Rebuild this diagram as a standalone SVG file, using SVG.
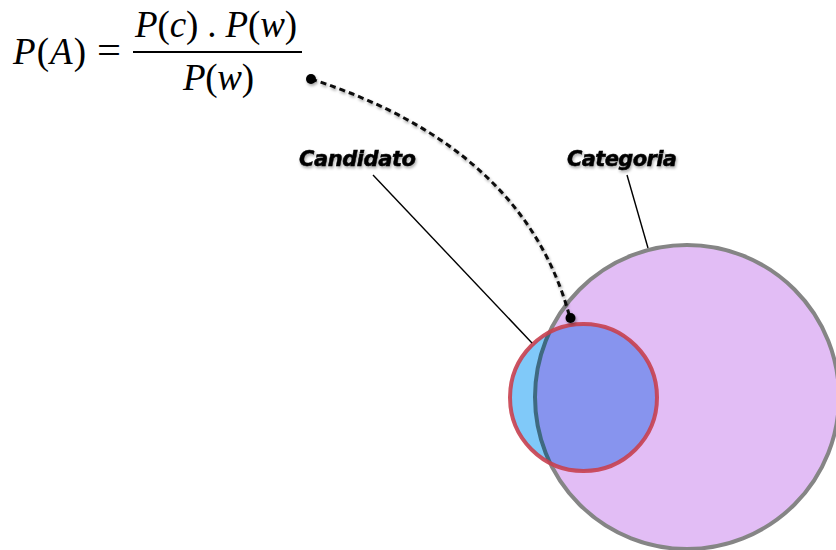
<svg xmlns="http://www.w3.org/2000/svg" width="836" height="550" viewBox="0 0 836 550">
<style>
.math{font-family:"Liberation Serif","Times New Roman",serif;font-size:37px;fill:#000}
.it{font-style:italic}
.lbl{font-family:"DejaVu Sans",Arial,sans-serif;font-weight:bold;font-style:oblique;font-size:21px;fill:#000;stroke:#000;stroke-width:0.5}
.leader{stroke:#000;stroke-width:1.4;fill:none}
.dash{stroke:#111;stroke-width:3;fill:none;stroke-dasharray:6 4}
</style>
<defs>
<filter id="sh" x="-20%" y="-20%" width="140%" height="140%">
<feGaussianBlur in="SourceAlpha" stdDeviation="1.5"/>
<feOffset dx="1" dy="1.5" result="b"/>
<feComponentTransfer><feFuncA type="linear" slope="0.35"/></feComponentTransfer>
<feMerge><feMergeNode/><feMergeNode in="SourceGraphic"/></feMerge>
</filter>
<clipPath id="bigClip"><circle cx="687" cy="397" r="152"/></clipPath>
<clipPath id="smallClip"><circle cx="583.5" cy="397.5" r="73.5"/></clipPath>
</defs>
<rect width="836" height="550" fill="#fff"/>

<g id="formula">
<text class="math" x="13" y="64" textLength="73" lengthAdjust="spacing"><tspan class="it">P</tspan>(<tspan class="it">A</tspan>)</text>
<text class="math" x="97" y="63" textLength="24" lengthAdjust="spacingAndGlyphs">=</text>
<text class="math" x="135" y="37" textLength="162" lengthAdjust="spacing"><tspan class="it">P</tspan>(<tspan class="it">c</tspan>) . <tspan class="it">P</tspan>(<tspan class="it">w</tspan>)</text>
<line x1="133" y1="52" x2="302" y2="52" stroke="#000" stroke-width="2"/>
<text class="math" x="183" y="90" textLength="71" lengthAdjust="spacing"><tspan class="it">P</tspan>(<tspan class="it">w</tspan>)</text>
</g>

<g id="categoria">
<circle cx="687" cy="397" r="152" fill="#e2bdf5" stroke="#858585" stroke-width="4"/>
<text class="lbl" x="567" y="166" textLength="110" lengthAdjust="spacing" filter="url(#sh)">Categoria</text>
</g>

<g id="candidato">
<circle cx="583.5" cy="397.5" r="73.5" fill="#80c9f9"/>
<circle cx="583.5" cy="397.5" r="73.5" fill="#8794ee" clip-path="url(#bigClip)"/>
<circle cx="687" cy="397" r="152" fill="none" stroke="#3f6a80" stroke-width="4" clip-path="url(#smallClip)"/>
<circle cx="583.5" cy="397.5" r="73.5" fill="none" stroke="#c8404f" stroke-width="4" stroke-opacity="0.9"/>
<text class="lbl" x="299" y="166" textLength="117" lengthAdjust="spacing" filter="url(#sh)">Candidato</text>
</g>

<g id="connectors">
<line class="leader" x1="373" y1="175" x2="532" y2="343"/>
<line class="leader" x1="627" y1="175" x2="648" y2="248"/>
<g filter="url(#sh)">
<path class="dash" d="M311,79 Q525,148 570,318"/>
<circle cx="311" cy="79" r="5" fill="#000"/>
<circle cx="570.5" cy="318" r="5" fill="#000"/>
</g>
</g>
</svg>
